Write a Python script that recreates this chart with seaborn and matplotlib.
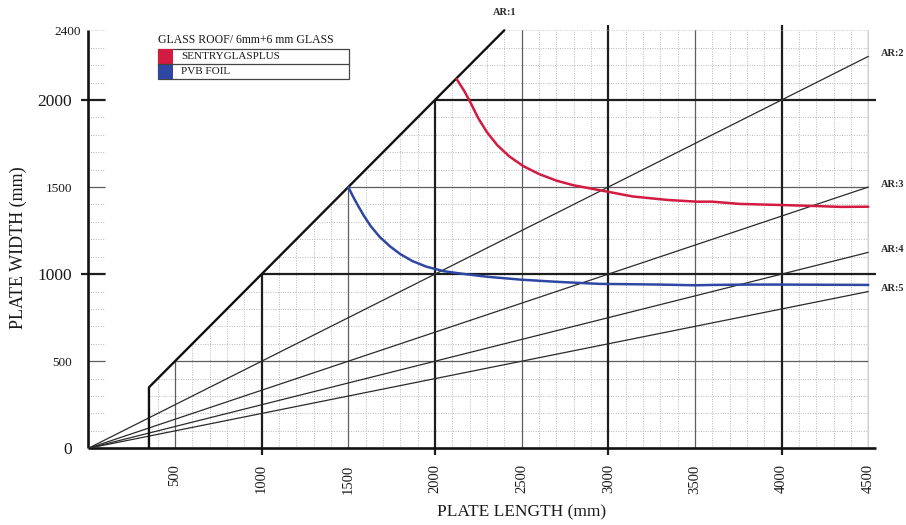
import numpy as np
import pandas as pd
import matplotlib
matplotlib.use("Agg")
import matplotlib.pyplot as plt
from matplotlib.path import Path
from matplotlib.patches import Rectangle
import seaborn as sns

# ---------------- data ----------------
sgp_length = [2125, 2170, 2210, 2250, 2300, 2360, 2430, 2510, 2600, 2700, 2800,
              2950, 3140, 3340, 3510, 3600, 3760, 3990, 4200, 4340, 4500]
sgp_width = [2120, 2050, 1975, 1895, 1815, 1740, 1675, 1620, 1575, 1537, 1510,
             1482, 1446, 1426, 1416, 1416, 1403, 1397, 1391, 1386, 1387]

pvb_length = [1500, 1525, 1555, 1590, 1630, 1680, 1740, 1800, 1870, 1950, 2050,
              2150, 2300, 2500, 2700, 2950, 3140, 3300, 3500, 3600, 3800, 4000, 4250, 4500]
pvb_width = [1500, 1450, 1395, 1335, 1275, 1215, 1160, 1115, 1075, 1043, 1017,
             1003, 985, 968, 956, 944, 942, 940, 936, 938, 940, 940, 939, 938]

aspect_ratios = [2, 3, 4, 5]
ar_labels = ["AR:1", "AR:2", "AR:3", "AR:4", "AR:5"]
ar1_length = [350, 350, 2400]
ar1_width = [0, 350, 2400]

x_ticks = [500, 1000, 1500, 2000, 2500, 3000, 3500, 4000, 4500]
y_ticks = [0, 500, 1000, 1500, 2000, 2400]
x_max, y_max = 4500, 2400
min_side, strip = 350, 100

legend_title = "GLASS ROOF/ 6mm+6 mm GLASS"
series_names = ["SENTRYGLASPLUS", "PVB FOIL"]
series_colors = ["#d31a40", "#2f47a2"]

# ---------------- style ----------------
sns.set_theme(style="white")
plt.rcParams["font.family"] = ["Liberation Serif", "DejaVu Serif"]

W, H = 906, 525
fig = plt.figure(figsize=(W / 100, H / 100), dpi=100)
sx = 0.17333  # px per mm (x)
sy = 0.17417  # px per mm (y)
x0_px, y0_px = 88.3, 448.3
xlim_max, ylim_max = 4600, 2450
ax = fig.add_axes([x0_px / W, (H - y0_px) / H, xlim_max * sx / W, ylim_max * sy / H])
ax.set_xlim(0, xlim_max)
ax.set_ylim(0, ylim_max)
for s in ax.spines.values():
    s.set_visible(False)
ax.set_facecolor("white")

# clip region for grid: strip near axis + area below AR:1
verts = [(0, 0), (strip, 0), (strip, y_max), (0, y_max), (0, 0),
         (min_side, 0), (x_max, 0), (x_max, y_max), (y_max, y_max), (min_side, min_side), (min_side, 0)]
codes = [Path.MOVETO, Path.LINETO, Path.LINETO, Path.LINETO, Path.CLOSEPOLY,
         Path.MOVETO, Path.LINETO, Path.LINETO, Path.LINETO, Path.LINETO, Path.CLOSEPOLY]
clip = Path(verts, codes)

def clipped(line):
    line.set_clip_path(clip, ax.transData)

minor_style = dict(color="#b9b9b9", lw=0.7, ls=(0, (1, 1.5)), zorder=1)
# minor dotted grid
for v in range(100, x_max + 1, 100):
    if v % 500:
        clipped(ax.axvline(v, **minor_style))
for h in range(100, y_max + 1, 100):
    if h % 500 or h == y_max:
        clipped(ax.axhline(h, **minor_style))
# medium grid (500s)
for v in range(500, x_max + 1, 1000):
    clipped(ax.axvline(v, color="#5e5e5e", lw=0.9, zorder=2))
for h in range(500, y_max, 1000):
    clipped(ax.axhline(h, color="#5e5e5e", lw=0.9, zorder=2))
# thick grid (1000s) with extensions
for v in range(1000, x_max, 1000):
    clipped(ax.axvline(v, color="#1e1e1e", lw=1.6, zorder=3))
    ax.vlines(v, -40, 0, color="#1e1e1e", lw=1.6, clip_on=False, zorder=3)
    if v > y_max:
        ax.vlines(v, y_max, y_max + 30, color="#1e1e1e", lw=1.6, clip_on=False, zorder=3)
for h in range(1000, y_max, 1000):
    clipped(ax.axhline(h, color="#1e1e1e", lw=1.6, zorder=3))
    ax.hlines(h, -40, 0, color="#1e1e1e", lw=1.6, clip_on=False, zorder=3)
    ax.hlines(h, x_max, x_max + 45, color="#1e1e1e", lw=1.6, clip_on=False, zorder=3)

# axes lines
ax.hlines(0, 0, x_max + 45, color="#111111", lw=1.9, clip_on=False, zorder=4)
ax.vlines(0, 0, y_max, color="#111111", lw=1.9, clip_on=False, zorder=4)

# aspect ratio lines
for r, lab in zip(aspect_ratios, ar_labels[1:]):
    xs = [0, x_max]
    ys = [0, x_max / r]
    sns.lineplot(x=xs, y=ys, ax=ax, color="#2a2a2a", lw=0.9, sort=False,
                 estimator=None, zorder=5)
    ax.annotate(lab, xy=(x_max, x_max / r), xytext=(13, 3), textcoords="offset pixels",
                ha="left", va="center", fontsize=7.5, fontweight="bold", color="#2a2a2a")
sns.lineplot(x=ar1_length, y=ar1_width, ax=ax, color="#111111", lw=1.7, sort=False,
             estimator=None, zorder=6)
ax.annotate(ar_labels[0], xy=(ar1_length[-1], ar1_width[-1]), xytext=(0, 18),
            textcoords="offset pixels", ha="center", va="center", fontsize=7.5,
            fontweight="bold", color="#2a2a2a")

# curves
curves = pd.concat([
    pd.DataFrame({"length": sgp_length, "width": sgp_width, "series": series_names[0]}),
    pd.DataFrame({"length": pvb_length, "width": pvb_width, "series": series_names[1]}),
])
sns.lineplot(data=curves, x="length", y="width", hue="series", palette=series_colors,
             ax=ax, lw=1.8, sort=False, estimator=None, legend=False, zorder=7)

# ticks
ax.set_xticks(x_ticks)
ax.set_xticklabels([str(v) for v in x_ticks], rotation=90, fontsize=10.5, color="#1a1a1a")
ax.set_yticks(y_ticks)
ax.set_yticklabels([str(v) for v in y_ticks], color="#1a1a1a")
ax.tick_params(axis="both", length=0, pad=11.5)
for lbl, v in zip(ax.get_yticklabels(), y_ticks):
    lbl.set_fontsize(12.5 if v % 1000 == 0 else 9.5)
for t, v in zip(ax.yaxis.get_major_ticks(), y_ticks):
    if v == y_max:
        t.set_pad(5)
ax.set_xlabel("")
ax.set_ylabel("")

# axis titles
fig.text(522 / W, 1 - 512 / H, "PLATE LENGTH (mm)", ha="center", va="center",
         fontsize=12.5, color="#1a1a1a")
fig.text(18 / W, 1 - 248 / H, "PLATE WIDTH (mm)", ha="center", va="center",
         rotation=90, fontsize=13, color="#1a1a1a")

# legend (manual box)
def fx(px):
    return px / W

def fy(py):
    return 1 - py / H

lx0, lx1 = 157.7, 349.0
ly0, ly1, ly2 = 49.0, 64.0, 79.0
fig.text(fx(lx0), fy(40), legend_title, ha="left", va="center", fontsize=8.5, color="#1a1a1a")
fig.patches.append(Rectangle((fx(lx0), fy(ly2)), fx(lx1) - fx(lx0), (ly2 - ly0) / H,
                             transform=fig.transFigure, fill=False, edgecolor="#444444", lw=0.9))
fig.lines.append(plt.Line2D([fx(lx0), fx(lx1)], [fy(ly1), fy(ly1)], transform=fig.transFigure,
                            color="#444444", lw=0.9))
for i, (name, col) in enumerate(zip(series_names, series_colors)):
    top = ly0 + i * (ly1 - ly0)
    fig.patches.append(Rectangle((fx(lx0), fy(top + 15)), fx(173.3) - fx(lx0), 15 / H,
                                 transform=fig.transFigure, facecolor=col, edgecolor="none"))
    fig.text(fx(181), fy(top + 7.5), name, ha="left", va="center", fontsize=8, color="#1a1a1a")

fig.savefig("out.png", dpi=100, facecolor="white")
